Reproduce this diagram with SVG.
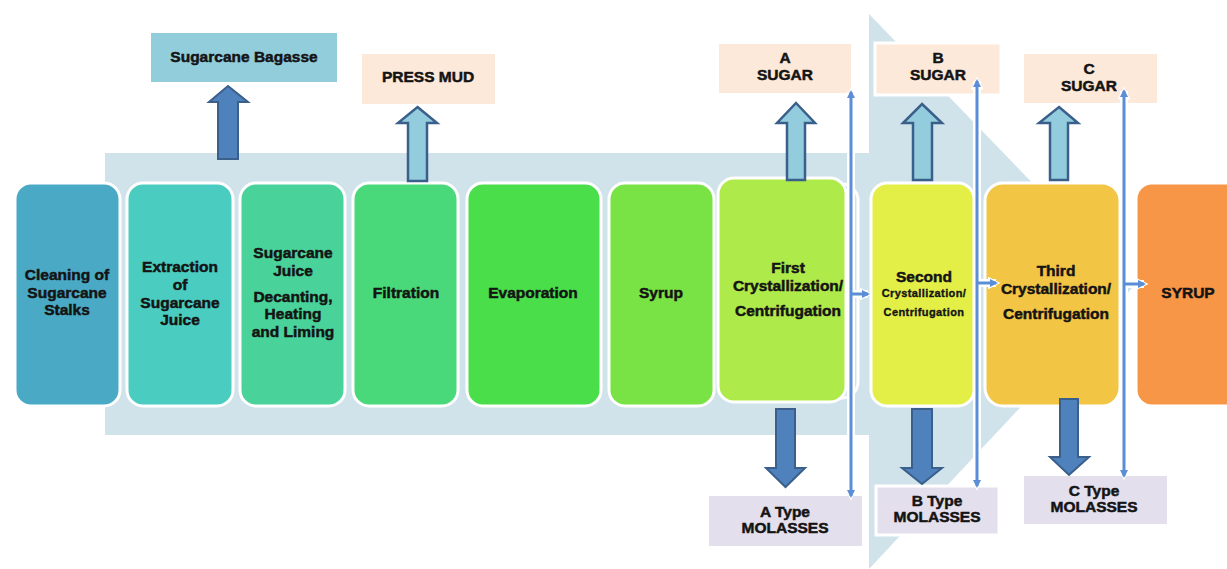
<svg xmlns="http://www.w3.org/2000/svg" width="1227" height="569" viewBox="0 0 1227 569">
<style>
.t{font-family:"Liberation Sans",Arial,sans-serif;font-weight:bold;font-size:15.5px;fill:#141414;text-anchor:middle;stroke:#141414;stroke-width:0.5}
.s{font-size:11px;letter-spacing:0.4px;stroke-width:0.35}
.n{stroke:#ffffff;stroke-width:3}
.dk{fill:#4f81bd;stroke:#3a5f8b;stroke-width:2}
.lt{fill:#93cddd;stroke:#3a5f8b;stroke-width:2.5}
.bl{stroke:#5b8ed6;stroke-width:3;fill:none}
.wl{stroke:#ffffff;stroke-width:8;fill:none}
</style>
<defs>
<marker id="ah" markerUnits="userSpaceOnUse" markerWidth="8" markerHeight="8" viewBox="0 0 8 8" refX="6" refY="4" orient="auto-start-reverse"><path d="M0,0 L8,4 L0,8 z" fill="#5b8ed6"/></marker>
<marker id="ahw" markerUnits="userSpaceOnUse" markerWidth="13" markerHeight="13" viewBox="0 0 13 13" refX="8.5" refY="6.5" orient="auto-start-reverse"><path d="M0,0 L13,6.5 L0,13 z" fill="#ffffff"/></marker>
</defs>
<rect width="1227" height="569" fill="#ffffff"/>
<g id="background-arrow">
<rect x="105" y="153" width="764" height="282" fill="#d0e2ea"/>
<polygon points="869,14 1133,287 869,569" fill="#d0e2ea"/>
</g>
<g id="bagasse"><rect x="151" y="33" width="186" height="49" fill="#92cddc"/><text class="t" x="244" y="62">Sugarcane Bagasse</text></g>
<g id="press-mud"><rect x="362" y="54" width="133" height="50" fill="#fde9d9"/><text class="t" x="428" y="82">PRESS MUD</text></g>
<g id="a-sugar"><rect x="719" y="44" width="132" height="49" fill="#fde9d9"/><text class="t" x="785" y="63">A</text><text class="t" x="785" y="80">SUGAR</text></g>
<g id="b-sugar"><rect x="875" y="43" width="126" height="52" fill="#fde9d9" stroke="#ffffff" stroke-width="3"/><text class="t" x="938" y="63">B</text><text class="t" x="938" y="80">SUGAR</text></g>
<g id="c-sugar"><rect x="1024" y="54" width="133" height="49" fill="#fde9d9"/><text class="t" x="1089" y="74">C</text><text class="t" x="1089" y="91">SUGAR</text></g>
<g id="a-molasses"><rect x="709" y="496" width="153" height="50" fill="#e4dfec"/><text class="t" x="785" y="517">A Type</text><text class="t" x="785" y="533">MOLASSES</text></g>
<g id="b-molasses"><rect x="876" y="486" width="123" height="49" fill="#e4dfec" stroke="#ffffff" stroke-width="3"/><text class="t" x="937" y="506">B Type</text><text class="t" x="937" y="522">MOLASSES</text></g>
<g id="c-molasses"><rect x="1024" y="476" width="143" height="48" fill="#e4dfec"/><text class="t" x="1094" y="496">C Type</text><text class="t" x="1094" y="512">MOLASSES</text></g>
<g id="cleaning"><rect class="n" x="15" y="183" width="105" height="223" rx="16" fill="#4aaac5"/><text class="t" x="67" y="280">Cleaning of</text><text class="t" x="67" y="298">Sugarcane</text><text class="t" x="67" y="315">Stalks</text></g>
<g id="extraction"><rect class="n" x="127" y="183" width="106" height="223" rx="16" fill="#4bccc0"/><text class="t" x="180" y="272">Extraction</text><text class="t" x="180" y="290">of</text><text class="t" x="180" y="308">Sugarcane</text><text class="t" x="180" y="325">Juice</text></g>
<g id="decanting"><rect class="n" x="240" y="183" width="105" height="223" rx="16" fill="#49d39a"/><text class="t" x="293" y="258">Sugarcane</text><text class="t" x="293" y="276">Juice</text><text class="t" x="293" y="302">Decanting,</text><text class="t" x="293" y="319">Heating</text><text class="t" x="293" y="337">and Liming</text></g>
<g id="filtration"><rect class="n" x="353" y="183" width="105" height="223" rx="16" fill="#4ad97a"/><text class="t" x="406" y="298">Filtration</text></g>
<g id="evaporation"><rect class="n" x="467" y="183" width="134" height="223" rx="16" fill="#4ade4b"/><text class="t" x="533" y="298">Evaporation</text></g>
<g id="syrup1"><rect class="n" x="609" y="183" width="105" height="223" rx="16" fill="#79e345"/><text class="t" x="661" y="298">Syrup</text></g>
<g id="first"><rect class="n" x="740" y="184" width="118" height="214" rx="16" fill="#d0e2ea"/><rect class="n" x="718" y="178" width="128" height="224" rx="16" fill="#aeea49"/><text class="t" x="788" y="273">First</text><text class="t" x="788" y="291">Crystallization/</text><text class="t" x="788" y="316">Centrifugation</text></g>
<g id="second"><rect class="n" x="871" y="183" width="103" height="223" rx="16" fill="#e3ee47"/><text class="t" x="924" y="282">Second</text><text class="t s" x="924" y="297">Crystallization/</text><text class="t s" x="924" y="316">Centrifugation</text></g>
<g id="third"><rect class="n" x="985" y="183" width="135" height="223" rx="18" fill="#f2c644"/><text class="t" x="1056" y="276">Third</text><text class="t" x="1056" y="294">Crystallization/</text><text class="t" x="1056" y="319">Centrifugation</text></g>
<g id="syrup2"><rect class="n" x="1136" y="183" width="105" height="223" rx="16" fill="#f79646"/><text class="t" x="1188" y="298">SYRUP</text></g>
<g id="connectors">
<polygon class="dk" points="228,86 248,102 238,102 238,159 218,159 218,102 209,102"/>
<polygon class="lt" points="417.5,107 437,123 427,123 427,181 408,181 408,123 398,123"/>
<polygon class="lt" points="796,103 815,123 805,123 805,180 787,180 787,123 777,123"/>
<polygon class="lt" points="922,104 942,123 932,123 932,180 913,180 913,123 903,123"/>
<polygon class="lt" points="1059,107 1078,123 1068,123 1068,180 1050,180 1050,123 1039,123"/>
<polygon class="dk" points="776,409 795,409 795,468 805,468 785.5,487 766,468 776,468"/>
<polygon class="dk" points="912,409 932,409 932,468 942,468 922,484 902,468 912,468"/>
<polygon class="dk" points="1060,399 1078,399 1078,457 1089,457 1069,475 1050,457 1060,457"/>
<path class="wl" d="M851,92 V496" marker-start="url(#ahw)" marker-end="url(#ahw)"/>
<path class="wl" d="M977,81 V486" marker-start="url(#ahw)" marker-end="url(#ahw)"/>
<path class="wl" d="M1124,91 V476" marker-start="url(#ahw)" marker-end="url(#ahw)"/>
<path class="wl" d="M852,294 H868" marker-end="url(#ahw)"/>
<path class="wl" d="M978,283 H996" marker-end="url(#ahw)"/>
<path class="wl" d="M1125,284 H1144" marker-end="url(#ahw)"/>
<path class="bl" d="M851,92 V496" marker-start="url(#ah)" marker-end="url(#ah)"/>
<path class="bl" d="M977,81 V486" marker-start="url(#ah)" marker-end="url(#ah)"/>
<path class="bl" d="M1124,91 V476" marker-start="url(#ah)" marker-end="url(#ah)"/>
<path class="bl" d="M852,294 H868" marker-end="url(#ah)"/>
<path class="bl" d="M978,283 H996" marker-end="url(#ah)"/>
<path class="bl" d="M1125,284 H1144" marker-end="url(#ah)"/>
</g>
</svg>
